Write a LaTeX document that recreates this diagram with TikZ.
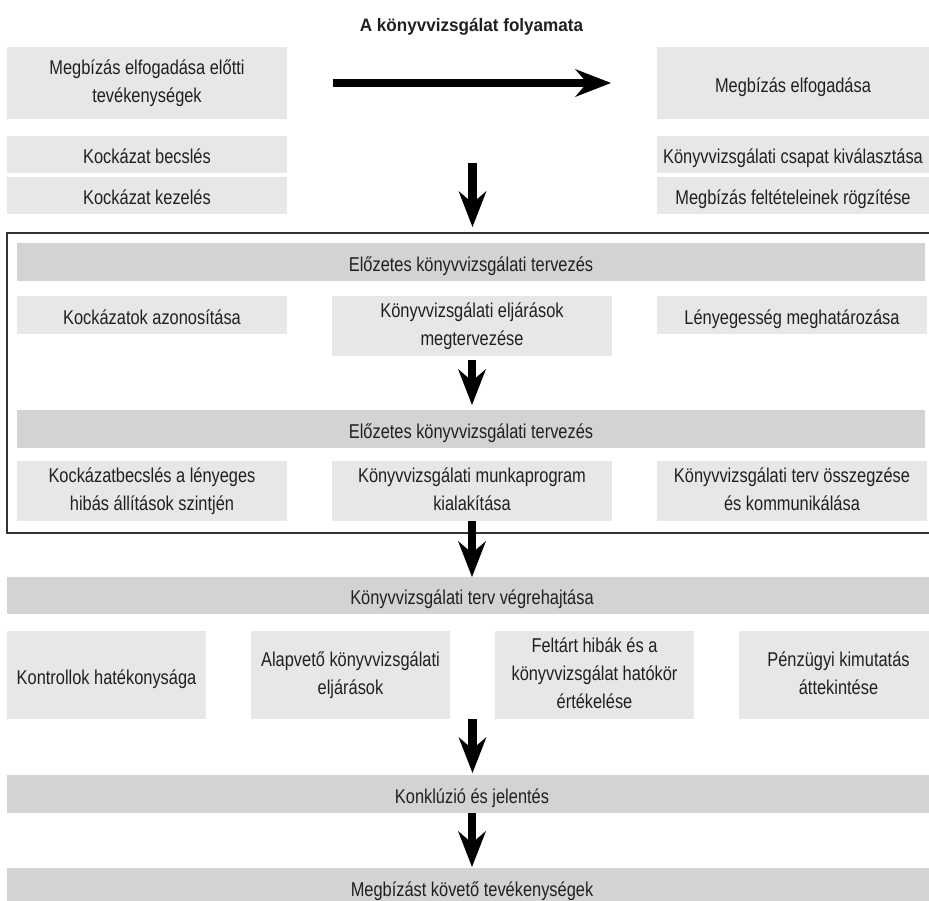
\documentclass[tikz,border=0pt]{standalone}
\usepackage{fontspec}
\setmainfont{Liberation Sans}[FakeStretch=0.82]
\newfontfamily\titlefont{Liberation Sans}[FakeStretch=0.95]
\usetikzlibrary{arrows.meta}
\definecolor{boxgray}{HTML}{E6E7E8}
\definecolor{bandgray}{HTML}{D1D3D4}
\definecolor{framegray}{HTML}{333333}
\definecolor{txt}{HTML}{231F20}
\newcommand\myup{\rule{0pt}{22.5pt}}
\newcommand\mydn{\rule[-4.2pt]{0pt}{4.2pt}}
\tikzset{
  basebox/.style={inner sep=0pt, outer sep=0pt, align=center, text=txt,
    font=\fontsize{20}{28}\selectfont,
    execute at begin node=\myup, execute at end node=\mydn},
  gbox/.style={basebox, fill=boxgray},
  gband/.style={basebox, fill=bandgray},
  bigarr/.style={draw=black, line width=8.5pt,
    -{Stealth[length=36pt,width=28pt,inset=12pt,line width=0pt]}},
  frameline/.style={draw=framegray, line width=2pt}
}
\begin{document}
\begin{tikzpicture}[x=1pt,y=-1pt]
\useasboundingbox (0,0) rectangle (929,901);
\clip (0,0) rectangle (929,901);

% title
\node[anchor=base, text=txt, inner sep=0pt, font=\titlefont\bfseries\fontsize{18}{22}\selectfont] (title) at (471.5,32) {A könyvvizsgálat folyamata};

% top section
\node[gbox, minimum width=280pt, minimum height=72pt] (pre) at (147,83) {Megbízás elfogadása előtti\\tevékenységek};
\node[gbox, minimum width=272pt, minimum height=72pt] (accept) at (793,83) {Megbízás elfogadása};
\node[gbox, minimum width=280pt, minimum height=37pt] (risk1) at (147,154.5) {Kockázat becslés};
\node[gbox, minimum width=280pt, minimum height=37pt] (risk2) at (147,195.5) {Kockázat kezelés};
\node[gbox, minimum width=272pt, minimum height=37pt] (team) at (793,154.5) {Könyvvizsgálati csapat kiválasztása};
\node[gbox, minimum width=272pt, minimum height=37pt] (terms) at (793,195.5) {Megbízás feltételeinek rögzítése};

% frame
\draw[frameline] (935,233) -- (7,233) -- (7,533) -- (935,533);

% planning section
\node[gband, minimum width=908pt, minimum height=38pt] (band1) at (471,262) {Előzetes könyvvizsgálati tervezés};
\node[gbox, minimum width=270pt, minimum height=38pt] (r2a) at (152,315) {Kockázatok azonosítása};
\node[gbox, minimum width=280pt, minimum height=60pt] (r2b) at (472,326) {Könyvvizsgálati eljárások\\megtervezése};
\node[gbox, minimum width=270pt, minimum height=38pt] (r2c) at (792,315) {Lényegesség meghatározása};
\node[gband, minimum width=908pt, minimum height=38pt] (band2) at (471,429) {Előzetes könyvvizsgálati tervezés};
\node[gbox, minimum width=270pt, minimum height=60pt] (r3a) at (152,491) {Kockázatbecslés a lényeges\\hibás állítások szintjén};
\node[gbox, minimum width=280pt, minimum height=60pt] (r3b) at (472,491) {Könyvvizsgálati munkaprogram\\kialakítása};
\node[gbox, minimum width=270pt, minimum height=60pt] (r3c) at (792,491) {Könyvvizsgálati terv összegzése\\és kommunikálása};

% execution
\node[gband, minimum width=930pt, minimum height=37pt] (band3) at (472,595.5) {Könyvvizsgálati terv végrehajtása};
\node[gbox, minimum width=199pt, minimum height=88pt] (r4a) at (106.5,675) {Kontrollok hatékonysága};
\node[gbox, minimum width=199pt, minimum height=88pt] (r4b) at (350.5,675) {Alapvető könyvvizsgálati\\eljárások};
\node[gbox, minimum width=199pt, minimum height=88pt] (r4c) at (594.5,675) {Feltárt hibák és a\\könyvvizsgálat hatókör\\értékelése};
\node[gbox, minimum width=199pt, minimum height=88pt] (r4d) at (838.5,675) {Pénzügyi kimutatás\\áttekintése};
\node[gband, minimum width=930pt, minimum height=38pt] (band4) at (472,794) {Konklúzió és jelentés};
\node[gband, minimum width=930pt, minimum height=38pt] (band5) at (472,887) {Megbízást követő tevékenységek};

% connector coordinates
\coordinate (hs) at ([xshift=46pt]pre.east);
\coordinate (he) at ([xshift=-46pt]accept.west);
\coordinate (a1s) at (472.5,163);
\coordinate (ftop) at (472.5,233);
\coordinate (a4s) at (472.5,719);

% arrows
\draw[bigarr] (hs) -- (he);
\draw[bigarr, shorten >=6pt] (a1s) -- (ftop);
\draw[bigarr, shorten <=4pt, shorten >=5pt] (r2b.south) -- (r2b.south |- band2.north);
\draw[bigarr] (r3b.south) -- (r3b.south |- band3.north);
\draw[bigarr, shorten >=2pt] (a4s) -- (a4s |- band4.north);
\draw[bigarr, shorten >=1pt] (band4.south) -- (band5.north);
\end{tikzpicture}
\end{document}
